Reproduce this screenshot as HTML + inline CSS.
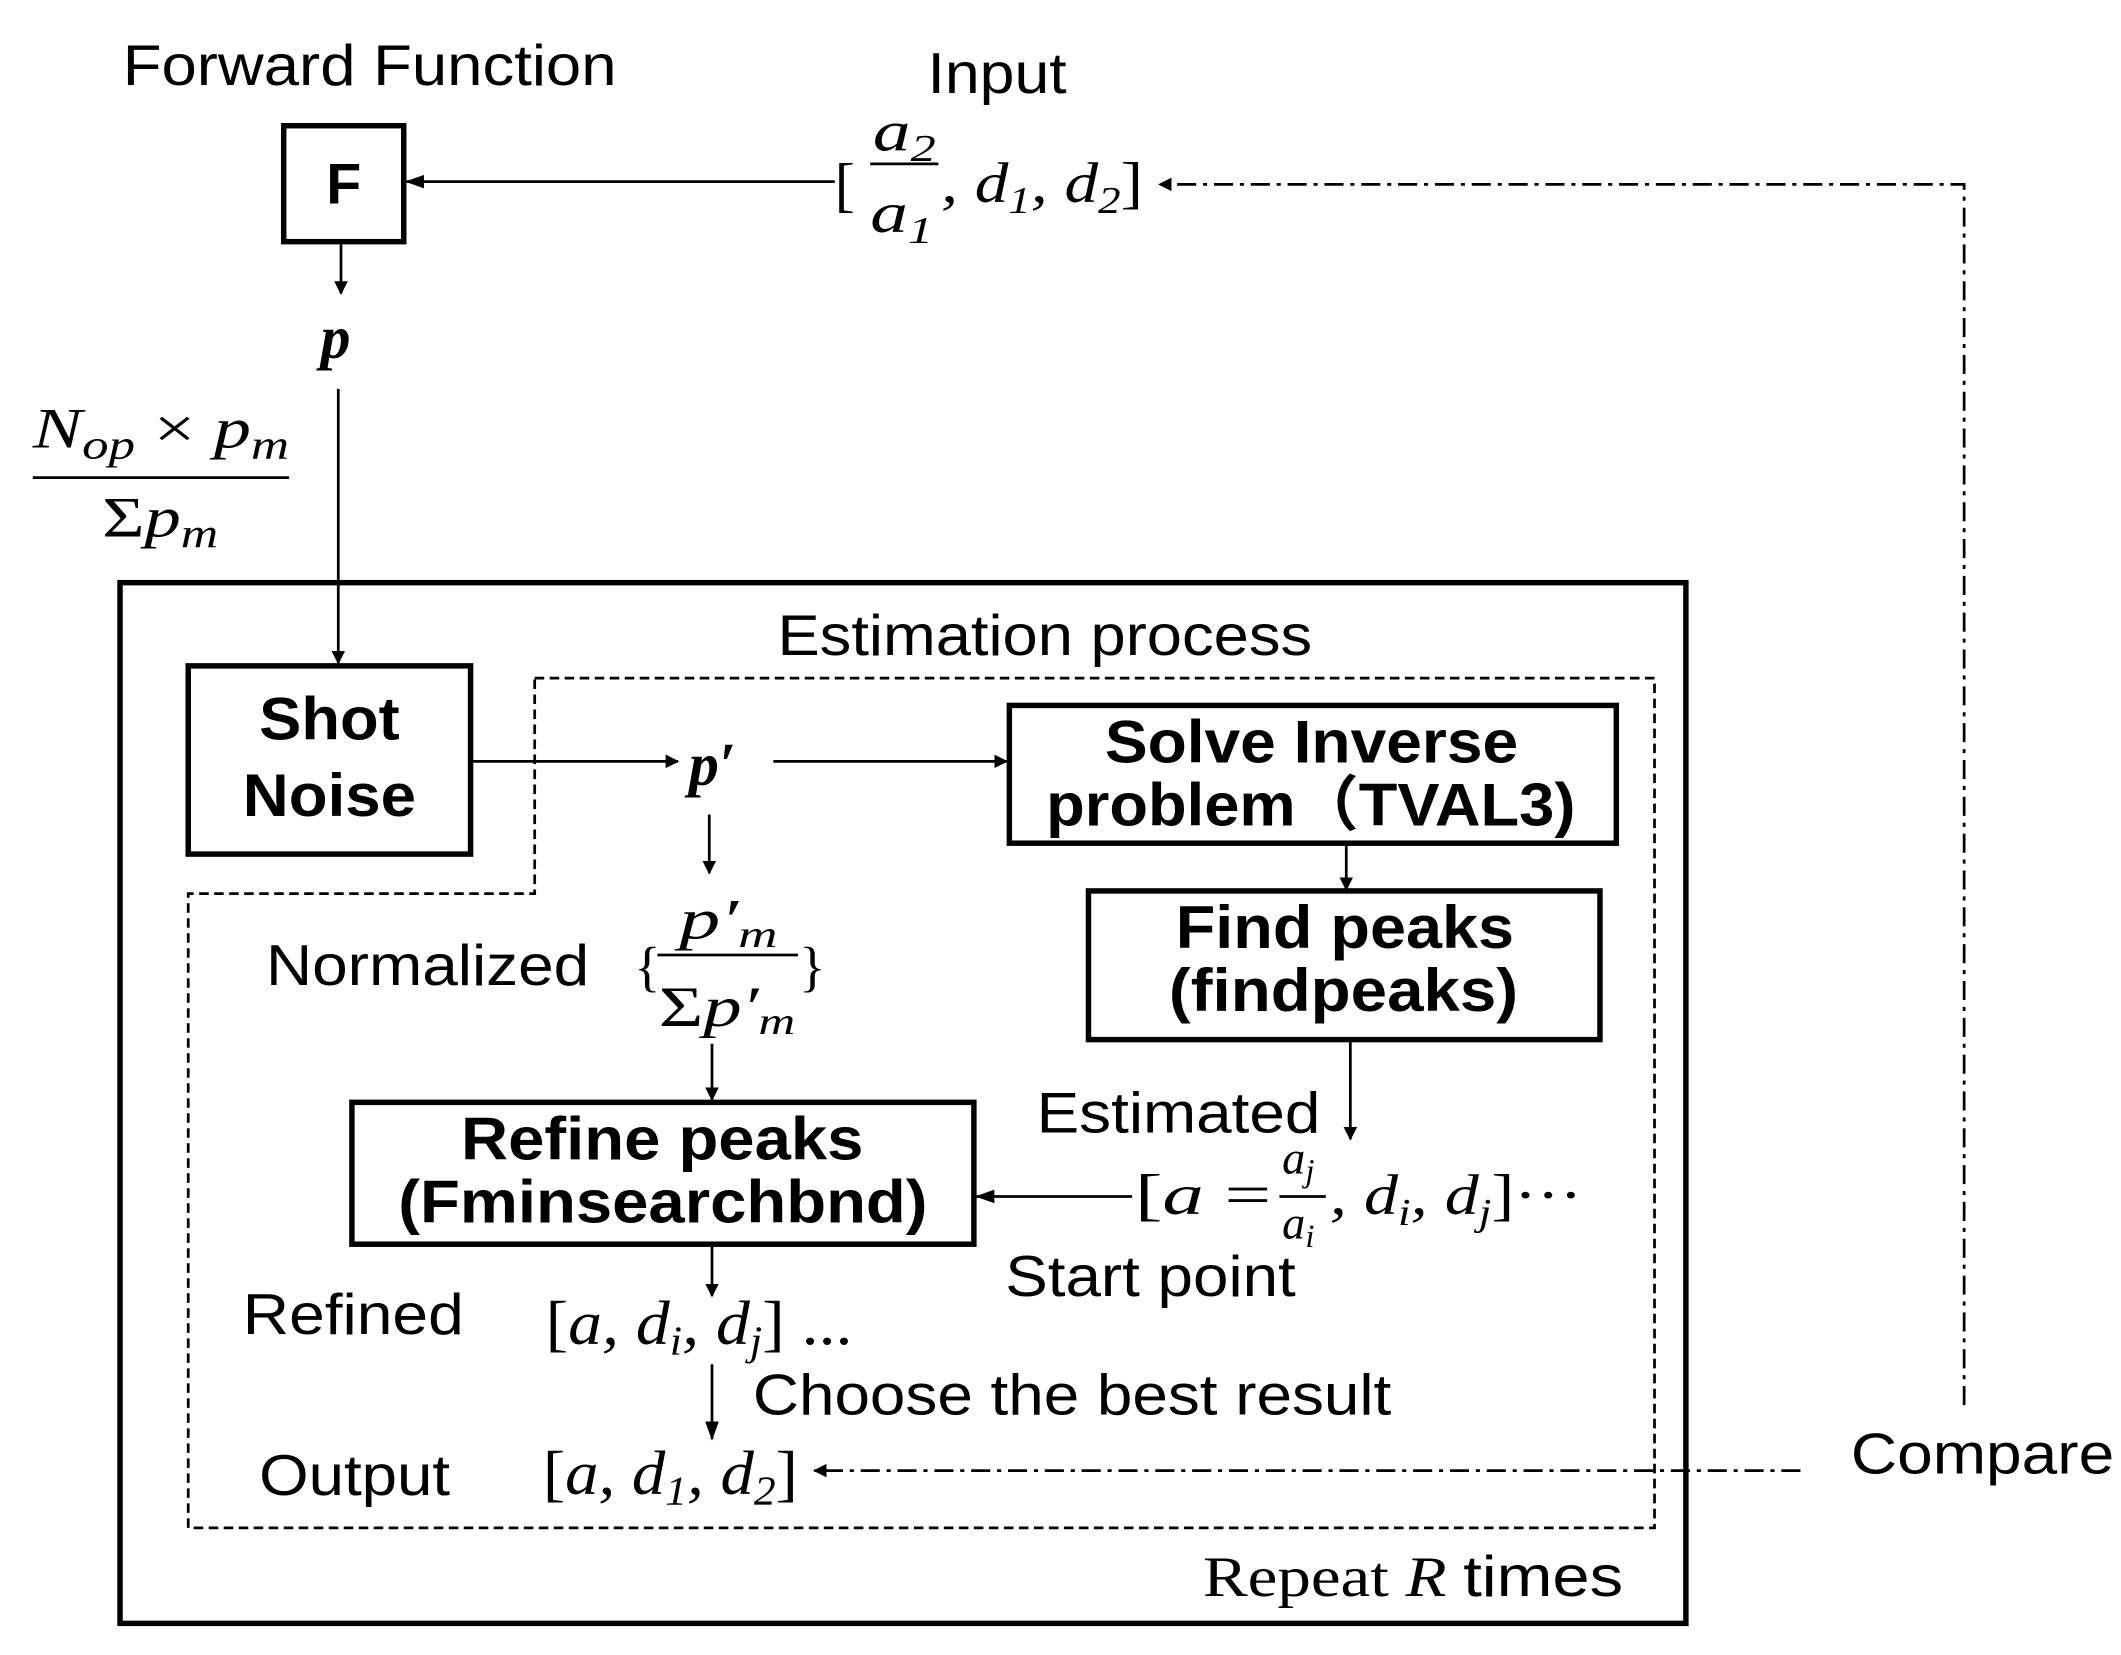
<!DOCTYPE html>
<html><head><meta charset="utf-8"><style>
html,body{margin:0;padding:0;background:#fff;}
svg{display:block;}
.s{font-family:"Liberation Sans","Noto Sans CJK JP",sans-serif;}
.m{font-family:"Liberation Serif",serif;font-style:italic;}
.r{font-family:"Liberation Serif",serif;}
</style></head><body>
<svg width="2121" height="1655" viewBox="0 0 1555 1213" xmlns="http://www.w3.org/2000/svg">
<defs>
<marker id="a" markerWidth="10" markerHeight="10" refX="9" refY="5" orient="auto" markerUnits="userSpaceOnUse"><path d="M0,0 L10,5 L0,10 z" fill="#000"/></marker>
<marker id="b" markerWidth="14" markerHeight="10" refX="13" refY="5" orient="auto" markerUnits="userSpaceOnUse"><path d="M0,0 L14,5 L0,10 z" fill="#000"/></marker>
</defs>
<rect width="1555" height="1213" fill="#fff"/>
<g stroke="#000" fill="none">
<rect x="208" y="92" width="88" height="85" stroke-width="4"/>
<rect x="88" y="427" width="1148" height="763" stroke-width="4"/>
<path d="M392,497 H1213 V1120 H138 V655 H392 Z" stroke-width="2" stroke-dasharray="7,4"/>
<rect x="138" y="488" width="207" height="138" stroke-width="4"/>
<rect x="740" y="517" width="445" height="101" stroke-width="4"/>
<rect x="798" y="653" width="375" height="109" stroke-width="4"/>
<rect x="258" y="808" width="456" height="104" stroke-width="4"/>
<g stroke-width="2">
<line x1="612" y1="133" x2="298" y2="133" marker-end="url(#b)"/>
<line x1="250" y1="179" x2="250" y2="215" marker-end="url(#a)"/>
<line x1="248" y1="285" x2="248" y2="486" marker-end="url(#a)"/>
<line x1="345" y1="558" x2="497" y2="558" marker-end="url(#a)"/>
<line x1="567" y1="558" x2="738" y2="558" marker-end="url(#a)"/>
<line x1="987" y1="618" x2="987" y2="652" marker-end="url(#a)"/>
<line x1="990" y1="762" x2="990" y2="835" marker-end="url(#a)"/>
<line x1="830" y1="877" x2="716" y2="877" marker-end="url(#b)"/>
<line x1="520" y1="597" x2="520" y2="640" marker-end="url(#a)"/>
<line x1="522" y1="765" x2="522" y2="806" marker-end="url(#a)"/>
<line x1="522" y1="912" x2="522" y2="950" marker-end="url(#a)"/>
<line x1="522" y1="1000" x2="522" y2="1055" marker-end="url(#b)"/>
<path d="M1440,1030 V135 H850" stroke-dasharray="14,5,3,5" marker-end="url(#a)"/>
<line x1="1320" y1="1078" x2="597" y2="1078" stroke-dasharray="14,5,3,5" marker-end="url(#a)"/>
<line x1="24" y1="350" x2="212" y2="350"/>
<line x1="638" y1="120" x2="688" y2="120"/>
<line x1="482" y1="700" x2="585" y2="700"/>
<line x1="938" y1="877" x2="972" y2="877"/>
</g>
</g>
<g fill="#000">
<text x="90" y="62" class="s" font-size="42" textLength="362" lengthAdjust="spacingAndGlyphs">Forward Function</text>
<text x="252" y="149" class="s" font-size="42" font-weight="bold" text-anchor="middle">F</text>
<text x="680" y="68" class="s" font-size="42" textLength="102" lengthAdjust="spacingAndGlyphs">Input</text>
<text x="612" y="150" class="r" font-size="44">[</text>
<text x="640" y="110" class="m" font-size="42" textLength="46" lengthAdjust="spacingAndGlyphs">a<tspan font-size="28" dy="8">2</tspan></text>
<text x="638" y="170" class="m" font-size="42" textLength="46" lengthAdjust="spacingAndGlyphs">a<tspan font-size="28" dy="8">1</tspan></text>
<text x="690" y="148" class="m" font-size="42" textLength="148" lengthAdjust="spacingAndGlyphs">, d<tspan font-size="28" dy="8">1</tspan><tspan dy="-8">, d</tspan><tspan font-size="28" dy="8">2</tspan><tspan dy="-8" font-style="normal">]</tspan></text>
<text x="235" y="262" class="m" font-size="44" font-weight="bold">p</text>
<text x="24" y="328" class="m" font-size="42" textLength="188" lengthAdjust="spacingAndGlyphs">N<tspan font-size="30" dy="8">op</tspan><tspan dy="-8" font-style="normal"> × </tspan>p<tspan font-size="30" dy="8">m</tspan></text>
<text x="75" y="393" class="m" font-size="42" textLength="85" lengthAdjust="spacingAndGlyphs"><tspan font-style="normal">Σ</tspan>p<tspan font-size="30" dy="8">m</tspan></text>
<text x="570" y="480" class="s" font-size="42" textLength="392" lengthAdjust="spacingAndGlyphs">Estimation process</text>
<text x="190" y="542" class="s" font-size="44" font-weight="bold" textLength="103" lengthAdjust="spacingAndGlyphs">Shot</text>
<text x="178" y="598" class="s" font-size="44" font-weight="bold" textLength="127" lengthAdjust="spacingAndGlyphs">Noise</text>
<text x="505" y="575" class="m" font-size="44" font-weight="bold">p′</text>
<text x="810" y="559" class="s" font-size="44" font-weight="bold" textLength="303" lengthAdjust="spacingAndGlyphs">Solve Inverse</text>
<text x="767" y="605" class="s" font-size="44" font-weight="bold" textLength="388" lengthAdjust="spacingAndGlyphs">problem（TVAL3)</text>
<text x="862" y="695" class="s" font-size="44" font-weight="bold" textLength="248" lengthAdjust="spacingAndGlyphs">Find peaks</text>
<text x="857" y="741" class="s" font-size="44" font-weight="bold" textLength="256" lengthAdjust="spacingAndGlyphs">(findpeaks)</text>
<text x="338" y="850" class="s" font-size="44" font-weight="bold" textLength="295" lengthAdjust="spacingAndGlyphs">Refine peaks</text>
<text x="292" y="896" class="s" font-size="44" font-weight="bold" textLength="388" lengthAdjust="spacingAndGlyphs">(Fminsearchbnd)</text>
<text x="195" y="722" class="s" font-size="42" textLength="237" lengthAdjust="spacingAndGlyphs">Normalized</text>
<text x="465" y="722" class="r" font-size="40">{</text>
<text x="498" y="688" class="m" font-size="42" textLength="72" lengthAdjust="spacingAndGlyphs">p′<tspan font-size="28" dy="6">m</tspan></text>
<text x="483" y="752" class="m" font-size="42" textLength="100" lengthAdjust="spacingAndGlyphs"><tspan font-style="normal">Σ</tspan>p′<tspan font-size="28" dy="6">m</tspan></text>
<text x="586" y="722" class="r" font-size="40">}</text>
<text x="760" y="830" class="s" font-size="42" textLength="208" lengthAdjust="spacingAndGlyphs">Estimated</text>
<text x="832" y="890" class="m" font-size="42" textLength="100" lengthAdjust="spacingAndGlyphs"><tspan font-style="normal">[</tspan>a <tspan font-style="normal">=</tspan></text>
<text x="940" y="860" class="m" font-size="34">a<tspan font-size="24" dy="6">j</tspan></text>
<text x="940" y="908" class="m" font-size="34">a<tspan font-size="24" dy="6">i</tspan></text>
<text x="975" y="890" class="m" font-size="42" textLength="185" lengthAdjust="spacingAndGlyphs">, d<tspan font-size="28" dy="8">i</tspan><tspan dy="-8">, d</tspan><tspan font-size="28" dy="8">j</tspan><tspan dy="-8" font-style="normal">]···</tspan></text>
<text x="737" y="950" class="s" font-size="42" textLength="213" lengthAdjust="spacingAndGlyphs">Start point</text>
<text x="178" y="978" class="s" font-size="42" textLength="162" lengthAdjust="spacingAndGlyphs">Refined</text>
<text x="400" y="985" class="m" font-size="46" textLength="225" lengthAdjust="spacingAndGlyphs"><tspan font-style="normal">[</tspan>a, d<tspan font-size="30" dy="8">i</tspan><tspan dy="-8">, d</tspan><tspan font-size="30" dy="8">j</tspan><tspan dy="-8" font-style="normal">] ...</tspan></text>
<text x="552" y="1037" class="s" font-size="42" textLength="468" lengthAdjust="spacingAndGlyphs">Choose the best result</text>
<text x="190" y="1096" class="s" font-size="42" textLength="140" lengthAdjust="spacingAndGlyphs">Output</text>
<text x="398" y="1095" class="m" font-size="46" textLength="187" lengthAdjust="spacingAndGlyphs"><tspan font-style="normal">[</tspan>a, d<tspan font-size="30" dy="8">1</tspan><tspan dy="-8">, d</tspan><tspan font-size="30" dy="8">2</tspan><tspan dy="-8" font-style="normal">]</tspan></text>
<text x="1357" y="1080" class="s" font-size="42" textLength="193" lengthAdjust="spacingAndGlyphs">Compare</text>
<text x="882" y="1170" class="r" font-size="42" textLength="308" lengthAdjust="spacingAndGlyphs">Repeat <tspan font-style="italic">R</tspan> <tspan font-family="Liberation Sans">times</tspan></text>
</g>
</svg>
</body></html>
